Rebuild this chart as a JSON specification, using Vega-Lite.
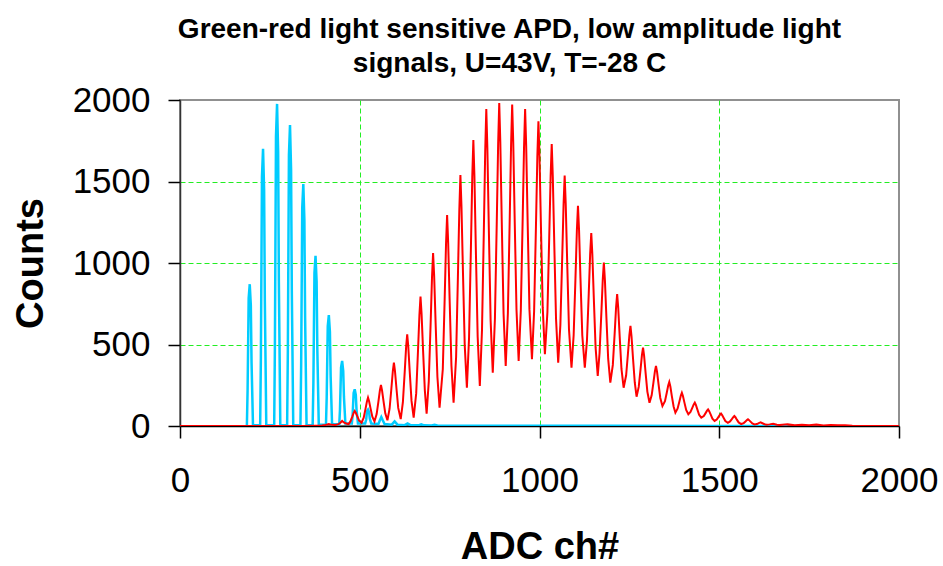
{
  "$schema": "https://vega.github.io/schema/vega-lite/v6.json",
  "width": 719,
  "height": 326,
  "autosize": "none",
  "padding": {"left": 180, "top": 100, "right": 44, "bottom": 140},
  "background": "white",
  "config": {
    "view": {"stroke": "#909090", "strokeWidth": 2},
    "font": "Liberation Sans"
  },
  "title": {
    "text": ["Green-red light sensitive APD, low amplitude light", "signals, U=43V, T=-28 C"],
    "font": "Liberation Sans",
    "fontSize": 28,
    "fontWeight": "bold",
    "color": "black",
    "anchor": "middle",
    "dx": -30,
    "lineHeight": 34,
    "offset": 5
  },
  "datasets": {
    "red": [
      {"ch":0,"counts":0},{"ch":340,"counts":0},{"ch":375,"counts":2},{"ch":395,"counts":3},
      {"ch":405,"counts":6},{"ch":414,"counts":12},{"ch":423,"counts":7},{"ch":432,"counts":6},
      {"ch":441,"counts":11},{"ch":446,"counts":20},{"ch":451,"counts":31},{"ch":456,"counts":22},{"ch":462,"counts":15},{"ch":469,"counts":12},
      {"ch":474,"counts":28},{"ch":479,"counts":56},{"ch":483,"counts":80},{"ch":486,"counts":92},{"ch":489,"counts":81},{"ch":493,"counts":60},{"ch":498,"counts":34},{"ch":505,"counts":20},
      {"ch":511,"counts":51},{"ch":516,"counts":105},{"ch":520,"counts":151},{"ch":523,"counts":174},{"ch":526,"counts":152},{"ch":530,"counts":108},{"ch":535,"counts":57},{"ch":541,"counts":28},
      {"ch":547,"counts":73},{"ch":552,"counts":151},{"ch":556,"counts":218},{"ch":559,"counts":252},{"ch":562,"counts":219},{"ch":566,"counts":154},{"ch":571,"counts":78},{"ch":577,"counts":35},
      {"ch":583,"counts":106},{"ch":588,"counts":230},{"ch":592,"counts":336},{"ch":595,"counts":389},{"ch":598,"counts":337},{"ch":602,"counts":233},{"ch":607,"counts":111},{"ch":614,"counts":42},
      {"ch":620,"counts":146},{"ch":625,"counts":329},{"ch":629,"counts":485},{"ch":632,"counts":563},{"ch":635,"counts":486},{"ch":639,"counts":333},{"ch":644,"counts":154},{"ch":650,"counts":52},
      {"ch":657,"counts":200},{"ch":662,"counts":460},{"ch":666,"counts":683},{"ch":669,"counts":794},{"ch":672,"counts":686},{"ch":676,"counts":471},{"ch":681,"counts":220},{"ch":686,"counts":76},
      {"ch":692,"counts":273},{"ch":697,"counts":618},{"ch":701,"counts":913},{"ch":704,"counts":1061},{"ch":707,"counts":919},{"ch":711,"counts":634},{"ch":716,"counts":302},{"ch":722,"counts":112},
      {"ch":731,"counts":348},{"ch":736,"counts":762},{"ch":740,"counts":1117},{"ch":743,"counts":1294},{"ch":746,"counts":1121},{"ch":750,"counts":776},{"ch":755,"counts":373},{"ch":761,"counts":143},
      {"ch":768,"counts":422},{"ch":773,"counts":911},{"ch":777,"counts":1330},{"ch":780,"counts":1540},{"ch":783,"counts":1344},{"ch":787,"counts":953},{"ch":792,"counts":496},{"ch":798,"counts":235},
      {"ch":804,"counts":539},{"ch":809,"counts":1071},{"ch":813,"counts":1527},{"ch":816,"counts":1755},{"ch":819,"counts":1529},{"ch":823,"counts":1076},{"ch":828,"counts":548},{"ch":834,"counts":246},
      {"ch":840,"counts":586},{"ch":845,"counts":1180},{"ch":849,"counts":1690},{"ch":852,"counts":1945},{"ch":855,"counts":1702},{"ch":859,"counts":1217},{"ch":864,"counts":651},{"ch":870,"counts":327},
      {"ch":876,"counts":658},{"ch":881,"counts":1237},{"ch":885,"counts":1734},{"ch":888,"counts":1982},{"ch":891,"counts":1740},{"ch":895,"counts":1256},{"ch":900,"counts":692},{"ch":906,"counts":369},
      {"ch":912,"counts":690},{"ch":917,"counts":1251},{"ch":921,"counts":1732},{"ch":924,"counts":1972},{"ch":927,"counts":1736},{"ch":931,"counts":1264},{"ch":936,"counts":714},{"ch":942,"counts":399},
      {"ch":948,"counts":708},{"ch":953,"counts":1249},{"ch":957,"counts":1713},{"ch":960,"counts":1945},{"ch":963,"counts":1715},{"ch":967,"counts":1254},{"ch":972,"counts":717},{"ch":979,"counts":410},
      {"ch":985,"counts":702},{"ch":990,"counts":1212},{"ch":994,"counts":1650},{"ch":997,"counts":1869},{"ch":1000,"counts":1655},{"ch":1004,"counts":1226},{"ch":1009,"counts":726},{"ch":1015,"counts":440},
      {"ch":1022,"counts":698},{"ch":1027,"counts":1150},{"ch":1031,"counts":1537},{"ch":1034,"counts":1730},{"ch":1037,"counts":1529},{"ch":1041,"counts":1127},{"ch":1046,"counts":657},{"ch":1052,"counts":389},
      {"ch":1058,"counts":618},{"ch":1063,"counts":1020},{"ch":1067,"counts":1364},{"ch":1070,"counts":1536},{"ch":1073,"counts":1359},{"ch":1077,"counts":1006},{"ch":1082,"counts":594},{"ch":1089,"counts":358},
      {"ch":1095,"counts":557},{"ch":1100,"counts":904},{"ch":1104,"counts":1202},{"ch":1107,"counts":1351},{"ch":1110,"counts":1202},{"ch":1114,"counts":904},{"ch":1119,"counts":557},{"ch":1126,"counts":358},
      {"ch":1132,"counts":523},{"ch":1137,"counts":812},{"ch":1141,"counts":1060},{"ch":1144,"counts":1184},{"ch":1147,"counts":1052},{"ch":1151,"counts":789},{"ch":1156,"counts":482},{"ch":1162,"counts":307},
      {"ch":1167,"counts":446},{"ch":1172,"counts":690},{"ch":1176,"counts":899},{"ch":1179,"counts":1003},{"ch":1182,"counts":892},{"ch":1186,"counts":671},{"ch":1191,"counts":413},{"ch":1197,"counts":266},
      {"ch":1204,"counts":375},{"ch":1209,"counts":565},{"ch":1213,"counts":728},{"ch":1216,"counts":809},{"ch":1219,"counts":723},{"ch":1223,"counts":551},{"ch":1228,"counts":350},{"ch":1234,"counts":235},
      {"ch":1241,"counts":311},{"ch":1246,"counts":443},{"ch":1250,"counts":557},{"ch":1253,"counts":614},{"ch":1256,"counts":549},{"ch":1260,"counts":419},{"ch":1265,"counts":267},{"ch":1270,"counts":180},
      {"ch":1276,"counts":240},{"ch":1281,"counts":346},{"ch":1285,"counts":436},{"ch":1288,"counts":481},{"ch":1291,"counts":430},{"ch":1295,"counts":329},{"ch":1300,"counts":211},{"ch":1306,"counts":143},
      {"ch":1312,"counts":188},{"ch":1317,"counts":267},{"ch":1321,"counts":335},{"ch":1324,"counts":369},{"ch":1327,"counts":332},{"ch":1331,"counts":258},{"ch":1336,"counts":172},{"ch":1342,"counts":123},
      {"ch":1349,"counts":152},{"ch":1354,"counts":204},{"ch":1358,"counts":248},{"ch":1361,"counts":270},{"ch":1364,"counts":242},{"ch":1368,"counts":185},{"ch":1373,"counts":120},{"ch":1378,"counts":82},
      {"ch":1384,"counts":106},{"ch":1389,"counts":149},{"ch":1393,"counts":186},{"ch":1396,"counts":204},{"ch":1399,"counts":184},{"ch":1403,"counts":145},{"ch":1408,"counts":98},{"ch":1414,"counts":72},
      {"ch":1420,"counts":86},{"ch":1425,"counts":111},{"ch":1429,"counts":132},{"ch":1432,"counts":143},{"ch":1435,"counts":129},{"ch":1439,"counts":102},{"ch":1444,"counts":69},{"ch":1450,"counts":51},
      {"ch":1457,"counts":61},{"ch":1462,"counts":79},{"ch":1466,"counts":94},{"ch":1469,"counts":102},{"ch":1472,"counts":91},{"ch":1476,"counts":71},{"ch":1481,"counts":45},{"ch":1487,"counts":31},
      {"ch":1493,"counts":40},{"ch":1498,"counts":56},{"ch":1502,"counts":69},{"ch":1505,"counts":76},{"ch":1508,"counts":67},{"ch":1512,"counts":51},{"ch":1517,"counts":31},{"ch":1524,"counts":20},
      {"ch":1530,"counts":28},{"ch":1535,"counts":42},{"ch":1539,"counts":54},{"ch":1542,"counts":61},{"ch":1545,"counts":54},{"ch":1549,"counts":39},{"ch":1554,"counts":22},{"ch":1561,"counts":12},
      {"ch":1568,"counts":18},{"ch":1573,"counts":28},{"ch":1577,"counts":36},{"ch":1580,"counts":41},{"ch":1583,"counts":36},{"ch":1587,"counts":27},{"ch":1592,"counts":16},{"ch":1598,"counts":10},
      {"ch":1605,"counts":12},{"ch":1610,"counts":18},{"ch":1615,"counts":22},{"ch":1620,"counts":17},{"ch":1626,"counts":11},{"ch":1632,"counts":8},
      {"ch":1640,"counts":10},{"ch":1650,"counts":14},{"ch":1660,"counts":8},{"ch":1668,"counts":6},{"ch":1690,"counts":10},{"ch":1710,"counts":4},
      {"ch":1730,"counts":8},{"ch":1750,"counts":5},{"ch":1770,"counts":9},{"ch":1790,"counts":3},{"ch":1810,"counts":6},{"ch":1830,"counts":4},
      {"ch":1850,"counts":5},{"ch":1870,"counts":1},{"ch":1900,"counts":0},{"ch":2000,"counts":0}
    ],
    "cyan": [
      {"ch":186,"counts":0},{"ch":188,"counts":218},{"ch":191,"counts":783},{"ch":194,"counts":870},{"ch":197,"counts":740},{"ch":199,"counts":392},{"ch":203,"counts":5},
      {"ch":223,"counts":5},{"ch":225,"counts":425},{"ch":228,"counts":1530},{"ch":231,"counts":1700},{"ch":234,"counts":1445},{"ch":236,"counts":765},{"ch":240,"counts":5},
      {"ch":262,"counts":5},{"ch":264,"counts":494},{"ch":267,"counts":1778},{"ch":270,"counts":1976},{"ch":273,"counts":1680},{"ch":275,"counts":889},{"ch":279,"counts":5},
      {"ch":298,"counts":5},{"ch":300,"counts":462},{"ch":303,"counts":1662},{"ch":306,"counts":1847},{"ch":309,"counts":1570},{"ch":311,"counts":831},{"ch":315,"counts":5},
      {"ch":335,"counts":5},{"ch":337,"counts":371},{"ch":340,"counts":1337},{"ch":343,"counts":1485},{"ch":346,"counts":1262},{"ch":348,"counts":668},{"ch":352,"counts":5},
      {"ch":369,"counts":5},{"ch":371,"counts":261},{"ch":374,"counts":940},{"ch":377,"counts":1044},{"ch":380,"counts":887},{"ch":382,"counts":470},{"ch":386,"counts":8},
      {"ch":406,"counts":8},{"ch":408,"counts":170},{"ch":411,"counts":612},{"ch":414,"counts":680},{"ch":417,"counts":578},{"ch":419,"counts":306},{"ch":423,"counts":10},
      {"ch":443,"counts":10},{"ch":445,"counts":100},{"ch":448,"counts":359},{"ch":451,"counts":399},{"ch":454,"counts":339},{"ch":456,"counts":180},{"ch":460,"counts":15},
      {"ch":478,"counts":15},{"ch":480,"counts":60},{"ch":483,"counts":203},{"ch":486,"counts":225},{"ch":489,"counts":191},{"ch":491,"counts":101},{"ch":495,"counts":15},
      {"ch":515,"counts":15},{"ch":518,"counts":40},{"ch":520,"counts":90},{"ch":523,"counts":100},{"ch":526,"counts":85},{"ch":528,"counts":45},{"ch":532,"counts":15},
      {"ch":552,"counts":12},{"ch":556,"counts":35},{"ch":560,"counts":55},{"ch":564,"counts":35},{"ch":569,"counts":12},
      {"ch":589,"counts":8},{"ch":597,"counts":28},{"ch":605,"counts":8},
      {"ch":625,"counts":5},{"ch":633,"counts":15},{"ch":641,"counts":5},
      {"ch":663,"counts":4},{"ch":671,"counts":10},{"ch":679,"counts":4},
      {"ch":700,"counts":3},{"ch":708,"counts":8},{"ch":716,"counts":3},
      {"ch":760,"counts":2},{"ch":900,"counts":1},{"ch":1200,"counts":1},{"ch":1500,"counts":0},{"ch":1690,"counts":0}
    ]
  },
  "encoding": {
    "x": {
      "field": "ch",
      "type": "quantitative",
      "scale": {"domain": [0, 2000], "nice": false, "zero": false},
      "axis": {
        "title": "ADC ch#",
        "values": [0, 500, 1000, 1500, 2000],
        "format": "d",
        "labelFont": "Liberation Sans",
        "labelFontSize": 35,
        "labelColor": "black",
        "labelFlush": false,
        "labelPadding": 25,
        "tickSize": 12,
        "tickColor": "black",
        "tickWidth": 1.5,
        "domainColor": "black",
        "domainWidth": 1.5,
        "titleFont": "Liberation Sans",
        "titleFontSize": 38,
        "titleFontWeight": "bold",
        "titleColor": "black",
        "titlePadding": 30,
        "grid": true,
        "gridColor": "#22EE22",
        "gridDash": [5, 3],
        "gridWidth": 1,
        "gridOpacity": {"condition": {"test": "datum.value === 0 || datum.value === 2000", "value": 0}, "value": 1}
      }
    },
    "y": {
      "field": "counts",
      "type": "quantitative",
      "scale": {"domain": [0, 2000], "nice": false},
      "axis": {
        "title": "Counts",
        "values": [0, 500, 1000, 1500, 2000],
        "format": "d",
        "labelFont": "Liberation Sans",
        "labelFontSize": 35,
        "labelColor": "black",
        "labelFlush": false,
        "labelPadding": 18,
        "tickSize": 12,
        "tickColor": "black",
        "tickWidth": 1.5,
        "domainColor": "#333333",
        "domainWidth": 1.5,
        "titleFont": "Liberation Sans",
        "titleFontSize": 38,
        "titleFontWeight": "bold",
        "titleColor": "black",
        "titlePadding": 22,
        "grid": true,
        "gridColor": "#22EE22",
        "gridDash": [5, 3],
        "gridWidth": 1,
        "gridOpacity": {"condition": {"test": "datum.value === 0 || datum.value === 2000", "value": 0}, "value": 1}
      }
    }
  },
  "layer": [
    {
      "data": {"name": "cyan"},
      "mark": {"type": "line", "color": "#00CCFF", "strokeWidth": 2.5, "clip": true}
    },
    {
      "data": {"name": "red"},
      "mark": {"type": "line", "color": "#FF0000", "strokeWidth": 2, "clip": true}
    }
  ]
}
